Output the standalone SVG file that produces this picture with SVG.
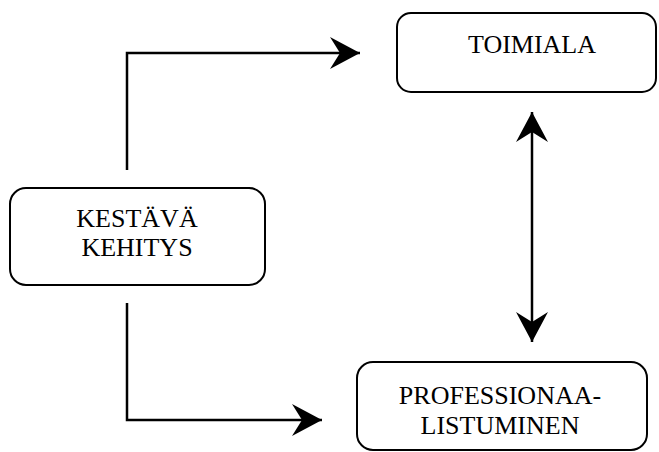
<svg xmlns="http://www.w3.org/2000/svg" width="659" height="452" viewBox="0 0 659 452">
  <defs>
    <style>
      .box { fill: #fff; stroke: #000; stroke-width: 2; }
      .lbl { font-family: "Liberation Serif", "Times New Roman", serif; font-size: 26px; fill: #000; text-anchor: middle; }
      .wire { fill: none; stroke: #000; stroke-width: 2.5; }
    </style>
    <marker id="head" markerUnits="userSpaceOnUse" markerWidth="32" markerHeight="34" refX="30" refY="16" orient="auto-start-reverse" viewBox="0 0 32 34">
      <path d="M30 16 L0 0 L10 16 L0 32 Z" fill="#000"/>
    </marker>
  </defs>

  <g id="connectors">
    <path class="wire" d="M127 170 V53 H360" marker-end="url(#head)"/>
    <path class="wire" d="M127 303 V420 H322" marker-end="url(#head)"/>
    <path class="wire" d="M532 112 V342" marker-start="url(#head)" marker-end="url(#head)"/>
  </g>

  <g id="kestava-kehitys">
    <rect class="box" x="10" y="188" width="255" height="97" rx="16"/>
    <text class="lbl" x="137" y="227">KESTÄVÄ</text>
    <text class="lbl" x="137" y="256">KEHITYS</text>
  </g>

  <g id="toimiala">
    <rect class="box" x="397" y="13" width="259" height="79" rx="14"/>
    <text class="lbl" x="532" y="53">TOIMIALA</text>
  </g>

  <g id="professionaalistuminen">
    <rect class="box" x="357" y="362" width="290" height="88" rx="16"/>
    <text class="lbl" x="500" y="404">PROFESSIONAA-</text>
    <text class="lbl" x="500" y="434">LISTUMINEN</text>
  </g>
</svg>
